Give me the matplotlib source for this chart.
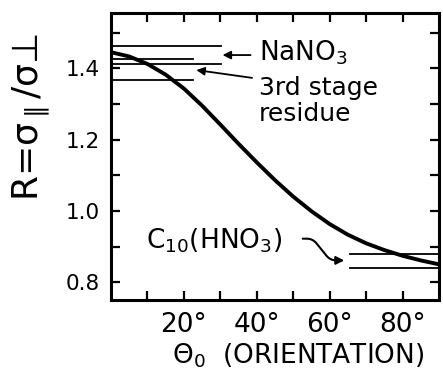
import matplotlib
matplotlib.use("Agg")
import matplotlib.pyplot as plt

plt.rcParams['font.family'] = ['DejaVu Sans']
plt.rcParams['mathtext.default'] = 'regular'

# curve
theta = [0, 5, 10, 15, 20, 25, 30, 35, 40, 45, 50, 55, 60, 65, 70, 75, 80, 85, 90]
ratio = [1.445, 1.433, 1.412, 1.382, 1.343, 1.295, 1.242, 1.188, 1.136, 1.086,
         1.040, 0.999, 0.963, 0.933, 0.909, 0.890, 0.874, 0.861, 0.850]

# reference levels (value, x start, x end)
nano3_levels = [1.462, 1.411]
nano3_span = (0, 30.2)
stage3_levels = [1.426, 1.367]
stage3_span = (0, 22.6)
c10_levels = [0.878, 0.840]
c10_span = (65.6, 90)

xticks = [20, 40, 60, 80]
yticks = [0.8, 1.0, 1.2, 1.4]

fig = plt.figure(figsize=(4.43, 3.71), dpi=100)
ax = fig.add_axes([0.2506, 0.1914, 0.7404, 0.7736])

ax.plot(theta, ratio, color='black', lw=2.8, solid_capstyle='butt',
        solid_joinstyle='round')

for lv in nano3_levels:
    ax.plot(nano3_span, [lv, lv], color='black', lw=1.3)
for lv in stage3_levels:
    ax.plot(stage3_span, [lv, lv], color='black', lw=1.3)
for lv in c10_levels:
    ax.plot(c10_span, [lv, lv], color='black', lw=1.3)

ax.set_xlim(0, 90)
ax.set_ylim(0.75, 1.555)

ax.set_xticks(xticks)
ax.set_xticklabels([f"{t}°" for t in xticks])
ax.set_xticks(range(10, 90, 10), minor=True)
ax.set_yticks(yticks)
ax.set_yticklabels([f"{v:.1f}" for v in yticks])
ax.set_yticks([0.9, 1.1, 1.3, 1.5], minor=True)

ax.tick_params(which='both', direction='in', length=6.5, width=1.6,
               top=True, right=True)
ax.tick_params(axis='x', labelsize=19, pad=9)
ax.tick_params(axis='y', labelsize=15.5, pad=8)
for sp in ax.spines.values():
    sp.set_linewidth(2.2)

# labels with arrows
ax.text(40.6, 1.443, r'NaNO$_3$', fontsize=19, va='center', ha='left')
ax.annotate('', xy=(30.6, 1.437), xytext=(38.3, 1.437),
            arrowprops=dict(arrowstyle='-|>', color='black', lw=1.3,
                            mutation_scale=12, shrinkA=0, shrinkB=0))
ax.text(40.6, 1.308, '3rd stage\nresidue', fontsize=18, va='center',
        ha='left', linespacing=1.1)
ax.annotate('', xy=(23.4, 1.395), xytext=(38.7, 1.373),
            arrowprops=dict(arrowstyle='-|>', color='black', lw=1.3,
                            mutation_scale=12, shrinkA=0, shrinkB=0))
ax.text(9.5, 0.917, r'C$_{10}$(HNO$_3$)', fontsize=19, va='center', ha='left')
ax.annotate('', xy=(64.0, 0.861), xytext=(52.6, 0.922),
            arrowprops=dict(arrowstyle='-|>', color='black', lw=1.5,
                            mutation_scale=12, shrinkA=0, shrinkB=0,
                            connectionstyle="arc,angleA=0,armA=10,angleB=180,armB=14,rad=6"))

fig.text(31 / 443, 0.685, r'R=$\sigma_{\parallel}$/$\sigma$⊥', rotation=90,
         fontsize=26, ha='center', va='center')
fig.text(298 / 443, 0.004, r'$\Theta_0$  (ORIENTATION)', fontsize=19,
         ha='center', va='bottom')

fig.savefig('out.png', dpi=100)
